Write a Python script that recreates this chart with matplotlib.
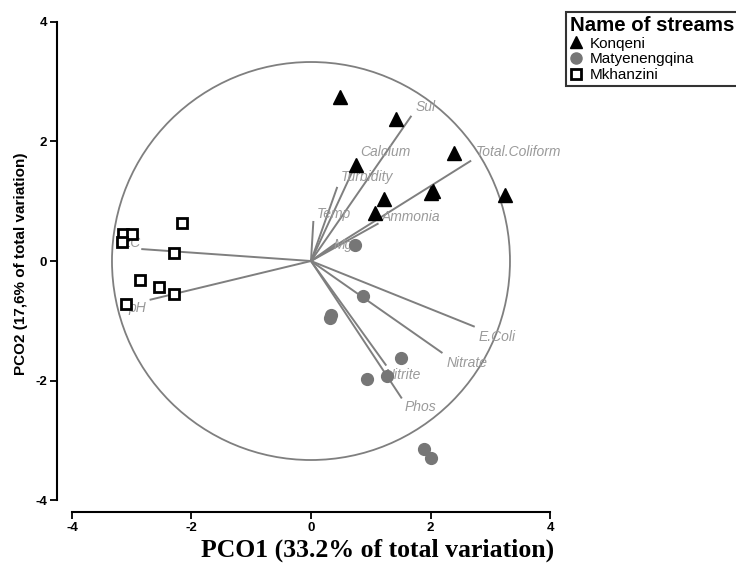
import matplotlib
matplotlib.use("Agg")
import matplotlib.pyplot as plt
from matplotlib.patches import Circle
from matplotlib.lines import Line2D

# ---------------- data ----------------
kon_x = [0.48, 1.43, 2.39, 0.76, 1.23, 1.07, 2.00, 2.05, 3.24]
kon_y = [2.74, 2.38, 1.81, 1.60, 1.03, 0.81, 1.14, 1.17, 1.10]

mat_x = [0.73, 0.87, 0.34, 0.32, 1.51, 0.93, 1.27, 1.89, 2.01]
mat_y = [0.27, -0.59, -0.90, -0.96, -1.62, -1.97, -1.93, -3.15, -3.29]

mkh_x = [-2.15, -3.14, -3.00, -3.17, -2.30, -2.86, -2.54, -2.29, -3.10]
mkh_y = [0.64, 0.46, 0.46, 0.31, 0.14, -0.31, -0.44, -0.55, -0.72]

var_names = ['Sul', 'Total.Coliform', 'Calcium', 'Turbidity', 'Temp', 'Ammonia',
             'Mg', 'EC', 'pH', 'E.Coli', 'Nitrate', 'Nitrite', 'Phos']
vec_x = [1.68, 2.68, 0.74, 0.44, 0.04, 1.13, 0.42, -2.84, -2.70, 2.74, 2.20, 1.26, 1.52]
vec_y = [2.43, 1.68, 1.60, 1.24, 0.67, 0.63, 0.30, 0.20, -0.65, -1.10, -1.54, -1.75, -2.30]

circle_radius = 3.33
stream_names = ['Konqeni', 'Matyenengqina', 'Mkhanzini']
ticks = [-4, -2, 0, 2, 4]

# ---------------- layout ----------------
label_x = [1.75, 2.75, 0.82, 0.50, 0.10, 1.18, 0.37, -3.17, -3.05, 2.80, 2.27, 1.23, 1.57]
label_y = [2.58, 1.83, 1.82, 1.40, 0.78, 0.73, 0.27, 0.30, -0.78, -1.27, -1.70, -1.90, -2.45]

fig = plt.figure(figsize=(7.36, 5.71), dpi=100)
ax = fig.add_axes([57 / 736, 59 / 571, 499 / 736, 496 / 571])
ax.set_xlim(-4.25, 4.1)
ax.set_ylim(-4.2, 4.1)

line_col = '#7f7f7f'
text_col = '#9a9a9a'

# circle
ax.add_patch(Circle((0, 0), circle_radius, fill=False, ec=line_col, lw=1.3, zorder=1))

# vectors
for vx, vy in zip(vec_x, vec_y):
    ax.plot([0, vx], [0, vy], color=line_col, lw=1.4, zorder=2, solid_capstyle='butt')
for name, lx, ly in zip(var_names, label_x, label_y):
    ax.text(lx, ly, name, color=text_col, fontsize=10, style='italic',
            family='Liberation Sans', ha='left', va='center', zorder=3)

# points
ax.plot(kon_x, kon_y, linestyle='none', marker='^', ms=10, color='black', zorder=5)
ax.plot(mat_x, mat_y, linestyle='none', marker='o', ms=8.5, color='#767676', mec='#767676', zorder=5)
ax.plot(mkh_x, mkh_y, linestyle='none', marker='s', ms=7.5, mfc='white', mec='black', mew=2, zorder=5)

# axes styling
for s in ['top', 'right']:
    ax.spines[s].set_visible(False)
for s in ['left', 'bottom']:
    ax.spines[s].set_bounds(-4, 4)
    ax.spines[s].set_linewidth(1.5)
ax.set_xticks(ticks)
ax.set_yticks(ticks)
ax.set_xticklabels([str(t) for t in ticks])
ax.set_yticklabels([str(t) for t in ticks])
ax.tick_params(direction='out', length=5, width=1.3, pad=2)
for lab in ax.get_xticklabels() + ax.get_yticklabels():
    lab.set_fontweight('bold')
    lab.set_fontsize(9.5)
    lab.set_family('Liberation Sans')

ax.set_ylabel('PCO2 (17,6% of total variation)', fontweight='bold', fontsize=11,
              family='Liberation Sans', labelpad=5)
fig.text(378 / 736, 1 - 550 / 571, 'PCO1 (33.2% of total variation)', ha='center', va='center',
         fontweight='bold', fontsize=18.5, family='Liberation Serif')

# legend
handles = [
    Line2D([], [], linestyle='none', marker='^', ms=9, color='black'),
    Line2D([], [], linestyle='none', marker='o', ms=8, color='#767676'),
    Line2D([], [], linestyle='none', marker='s', ms=7, mfc='white', mec='black', mew=2),
]
leg = fig.legend(handles, stream_names, loc='upper left',
                 bbox_to_anchor=(566 / 736, 1 - 12 / 571), bbox_transform=fig.transFigure,
                 title='Name of streams', frameon=True, fancybox=False,
                 borderpad=0.25, handlelength=0.8, handletextpad=0.5, labelspacing=0.12,
                 prop={'family': 'Liberation Sans', 'size': 11},
                 title_fontproperties={'family': 'Liberation Sans', 'size': 14.7, 'weight': 'bold'},
                 alignment='left', borderaxespad=0)
leg.get_frame().set_edgecolor('black')
leg.get_frame().set_linewidth(1.5)

fig.savefig('out.png', dpi=100)
